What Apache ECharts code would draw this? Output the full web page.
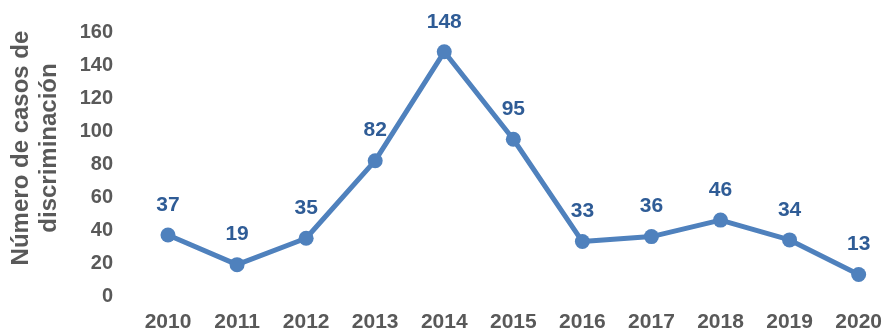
<!DOCTYPE html>
<html>
<head>
<meta charset="utf-8">
<script src="https://cdn.jsdelivr.net/npm/echarts@6/dist/echarts.min.js"></script>
<style>
  html, body { margin: 0; padding: 0; background: #fff; }
  #chart { width: 885px; height: 333px; }
</style>
</head>
<body>
<div id="chart"></div>
<script>
const years = ['2010', '2011', '2012', '2013', '2014', '2015', '2016', '2017', '2018', '2019', '2020'];
const cases = [37, 19, 35, 82, 148, 95, 33, 36, 46, 34, 13];
const yTicks = { min: 0, max: 160, interval: 20 };
const yTitle = ['Número de casos de', 'discriminación'];

const chart = echarts.init(document.getElementById('chart'));
chart.setOption({
  animation: false,
  grid: { left: 168, right: 24, top: 32, bottom: 36 },
  xAxis: {
    type: 'category',
    data: years,
    boundaryGap: false,
    axisLine: { show: false },
    axisTick: { show: false },
    axisLabel: {
      color: '#595959', fontFamily: 'Liberation Sans', fontSize: 21, fontWeight: 'bold',
      margin: 16
    }
  },
  yAxis: {
    type: 'value',
    min: yTicks.min, max: yTicks.max, interval: yTicks.interval,
    splitLine: { show: false },
    axisLine: { show: false },
    axisTick: { show: false },
    axisLabel: {
      color: '#595959', fontFamily: 'Liberation Sans', fontSize: 20, fontWeight: 'bold',
      margin: 55
    }
  },
  graphic: [{
    type: 'text',
    x: 35, y: 148,
    rotation: Math.PI / 2,
    style: {
      text: yTitle.join('\n'),
      fill: '#595959',
      font: 'bold 24px "Liberation Sans"',
      align: 'center',
      verticalAlign: 'middle',
      lineHeight: 28
    }
  }],
  series: [{
    type: 'line',
    data: cases,
    symbol: 'circle',
    symbolSize: 15,
    lineStyle: { color: '#4F81BD', width: 5 },
    itemStyle: { color: '#4F81BD' },
    label: {
      show: true,
      position: 'top',
      distance: 12,
      color: '#2F5C96',
      fontFamily: 'Liberation Sans',
      fontSize: 21,
      fontWeight: 'bold'
    }
  }]
});
</script>
</body>
</html>
